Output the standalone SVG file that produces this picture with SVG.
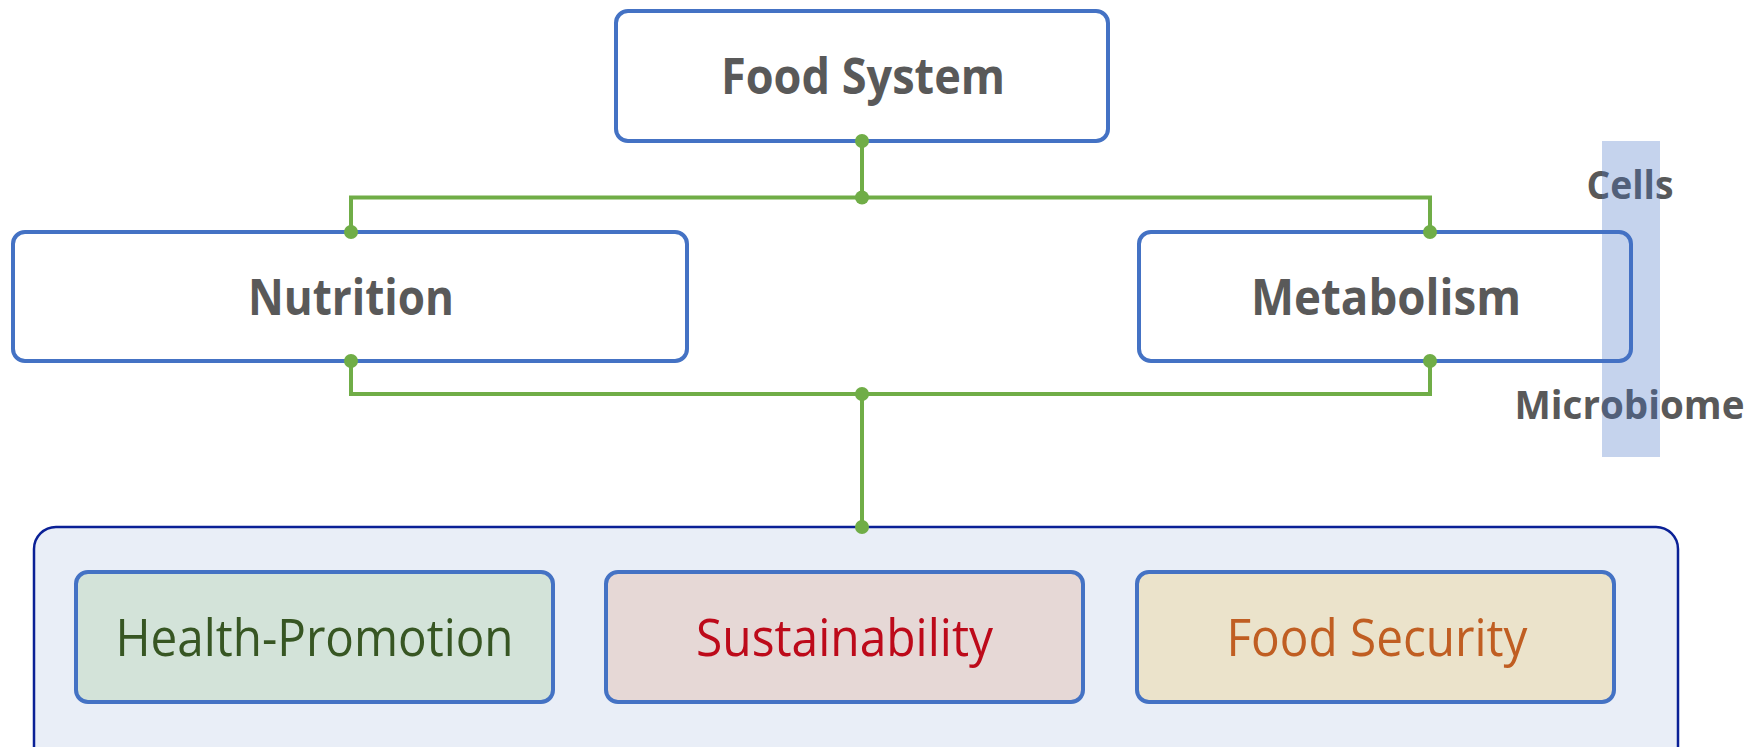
<svg xmlns="http://www.w3.org/2000/svg" width="1760" height="747" viewBox="0 0 1760 747">
  <style>
    .box { fill: #ffffff; stroke: #4472C4; stroke-width: 4; }
    .goal { stroke: #4472C4; stroke-width: 4; }
    .title { font-family: "Open Sans", "Liberation Sans", sans-serif; font-weight: 700; font-size: 50px; fill: #595959; text-anchor: middle; }
    .side { font-family: "Open Sans", "Liberation Sans", sans-serif; font-weight: 700; font-size: 40px; fill: #595959; text-anchor: middle; }
    .goaltext { font-family: "Open Sans", "Liberation Sans", sans-serif; font-weight: 400; font-size: 51px; text-anchor: middle; }
    .link { fill: none; stroke: #70AD47; stroke-width: 4; stroke-linejoin: miter; }
    .dot { fill: #70AD47; }
  </style>

  <!-- outcomes container -->
  <g id="outcomes">
    <rect x="34" y="527" width="1644" height="250" rx="22" fill="#E9EEF7" stroke="#0A2096" stroke-width="2.5"/>
  </g>

  <g id="health-promotion">
    <rect class="goal" x="76" y="572" width="477" height="130" rx="12" fill="#D3E3D9"/>
    <text class="goaltext" x="314.5" y="656" fill="#375623" textLength="398" lengthAdjust="spacingAndGlyphs">Health-Promotion</text>
  </g>

  <g id="sustainability">
    <rect class="goal" x="606" y="572" width="477" height="130" rx="12" fill="#E6D8D6"/>
    <text class="goaltext" x="844.5" y="656" fill="#BD0A1A" textLength="297" lengthAdjust="spacingAndGlyphs">Sustainability</text>
  </g>

  <g id="food-security">
    <rect class="goal" x="1137" y="572" width="477" height="130" rx="12" fill="#EBE3CB"/>
    <text class="goaltext" x="1377" y="656" fill="#C05E22" textLength="301" lengthAdjust="spacingAndGlyphs">Food Security</text>
  </g>

  <g id="food-system">
    <rect class="box" x="616" y="11" width="492" height="130" rx="12"/>
    <text class="title" x="863" y="94" textLength="284" lengthAdjust="spacingAndGlyphs">Food System</text>
  </g>

  <g id="nutrition">
    <rect class="box" x="13" y="232" width="674" height="129" rx="12"/>
    <text class="title" x="351" y="315" textLength="206" lengthAdjust="spacingAndGlyphs">Nutrition</text>
  </g>

  <g id="metabolism">
    <rect class="box" x="1139" y="232" width="492" height="129" rx="12"/>
    <text class="title" x="1386" y="315" textLength="270" lengthAdjust="spacingAndGlyphs">Metabolism</text>
  </g>

  <g id="scale-labels">
    <text class="side" x="1630" y="199" textLength="87" lengthAdjust="spacingAndGlyphs">Cells</text>
    <text class="side" x="1629.5" y="419" textLength="230" lengthAdjust="spacingAndGlyphs">Microbiome</text>
  </g>

  <!-- translucent scale band over Metabolism -->
  <g id="scale-band">
    <rect x="1602" y="141" width="58" height="316" fill="#4472C4" fill-opacity="0.31"/>
  </g>

  <g id="connectors">
    <path class="link" d="M862,141 V197.5"/>
    <path class="link" d="M351,232 V197.5 H1430 V232"/>
    <path class="link" d="M351,361 V394 H1430 V361"/>
    <path class="link" d="M862,394 V527"/>
    <circle class="dot" cx="862" cy="141" r="7"/>
    <circle class="dot" cx="862" cy="197.5" r="7"/>
    <circle class="dot" cx="351" cy="232" r="7"/>
    <circle class="dot" cx="1430" cy="232" r="7"/>
    <circle class="dot" cx="351" cy="361" r="7"/>
    <circle class="dot" cx="1430" cy="361" r="7"/>
    <circle class="dot" cx="862" cy="394" r="7"/>
    <circle class="dot" cx="862" cy="527" r="7"/>
  </g>
</svg>
